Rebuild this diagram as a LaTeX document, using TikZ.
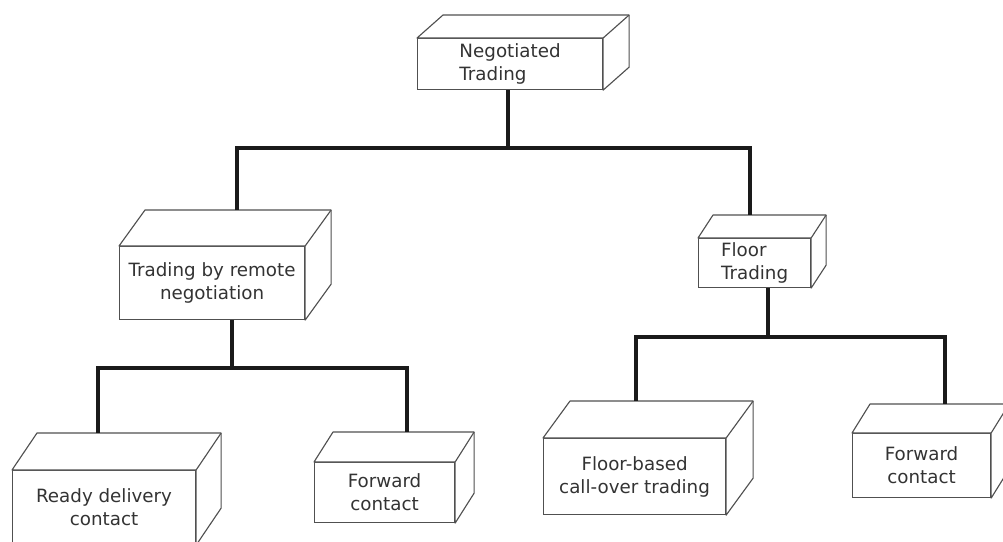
\documentclass[tikz,border=0pt]{standalone}
\usepackage{fontspec}
\setmainfont{DejaVu Sans}
\usetikzlibrary{calc}
\definecolor{boxDraw}{HTML}{505050}
\definecolor{textCol}{HTML}{333333}
\definecolor{linkCol}{HTML}{1A1A1A}
\newcommand{\px}{0.025cm}
\tikzset{
  font=\fontsize{13}{16.3}\selectfont,
  front/.style ={draw=boxDraw, line width=0.8pt, fill=white, align=center, text=textCol,
                 inner sep=1pt, anchor=north west},
  face/.style  ={draw=boxDraw, fill=white, line width=0.8pt, line join=round},
  link/.style  ={draw=linkCol, line width=2.2pt},
}
% top and side faces of a box, behind its front node: name, depth x, depth y
\newcommand{\boxfaces}[3]{%
  \filldraw[face] (#1.north west) -- ++(#2,#3) -- ($(#1.north east)+(#2,#3)$)
    -- ($(#1.south east)+(#2,#3)$) -- (#1.south east) -- (#1.north east) -- cycle;
  \draw[face] (#1.north east) -- ++(#2,#3);}

\begin{document}
\begin{tikzpicture}[x=\px, y=-\px]
  \path[use as bounding box, clip] (0,0) rectangle (1003,541);

  % front faces
  \node[front, align=left, minimum width=185*\px, minimum height=51*\px] (neg) at (417,38)  {Negotiated\\Trading};
  \node[front, minimum width=185*\px, minimum height=73*\px] (rem) at (119,246) {Trading by remote\\negotiation};
  \node[front, align=left, minimum width=112*\px, minimum height=49*\px] (flr) at (698,238) {Floor\\Trading};
  \node[front, minimum width=183*\px, minimum height=74*\px] (rdy) at (12,470)  {Ready delivery\\contact};
  \node[front, minimum width=140*\px, minimum height=60*\px] (fwl) at (314,462) {Forward\\contact};
  \node[front, minimum width=182*\px, minimum height=76*\px] (fbc) at (543,438) {Floor-based\\call-over trading};
  \node[front, minimum width=138*\px, minimum height=64*\px] (fwr) at (852,433) {Forward\\contact};

  \boxfaces{neg}{26}{-23}
  \boxfaces{rem}{26}{-36}
  \boxfaces{flr}{15}{-23}
  \boxfaces{rdy}{25}{-37}
  \boxfaces{fwl}{19}{-30}
  \boxfaces{fbc}{27}{-37}
  \boxfaces{fwr}{18}{-29}

  % where the stems meet the back edges, and the joints of the bars
  \coordinate (rem-top) at (237,210);
  \coordinate (flr-top) at (750,215);
  \coordinate (rdy-top) at (98,433);
  \coordinate (fwl-top) at (407,432);
  \coordinate (fbc-top) at (636,401);
  \coordinate (fwr-top) at (945,404);
  \coordinate (j1) at (508,148);
  \coordinate (j2) at (232,368);
  \coordinate (j3) at (768,337);

  \draw[link] (neg.south -| j1) -- (j1);
  \draw[link] (rem-top) |- (j1) -| (flr-top);
  \draw[link] (rem.south -| j2) -- (j2);
  \draw[link] (rdy-top) |- (j2) -| (fwl-top);
  \draw[link] (flr.south -| j3) -- (j3);
  \draw[link] (fbc-top) |- (j3) -| (fwr-top);
\end{tikzpicture}
\end{document}
